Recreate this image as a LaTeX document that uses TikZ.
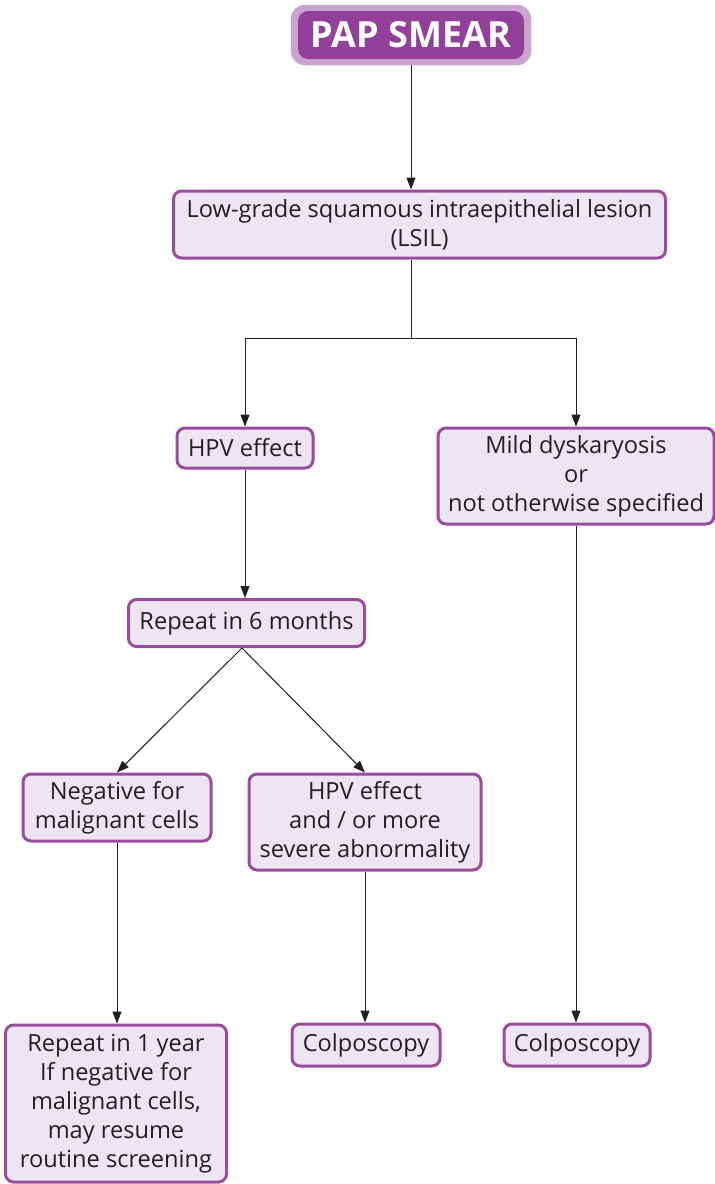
\documentclass[tikz,border=0pt]{standalone}
\usepackage{fontspec}
\setmainfont{Open Sans}
\usetikzlibrary{arrows.meta,calc}
\definecolor{boxfill}{HTML}{EDE5F2}
\definecolor{boxline}{HTML}{9A4C9E}
\definecolor{headfill}{HTML}{93409A}
\definecolor{headring}{HTML}{CBA3D0}
\definecolor{inktext}{HTML}{231F20}
\begin{document}
\begin{tikzpicture}[x=1pt,y=-1pt,
  stepbox/.style={draw=boxline, fill=boxfill, line width=3pt, rounded corners=8pt,
    align=center, inner sep=0pt, text=inktext,
    font=\fontsize{23.6}{29}\selectfont},
  link/.style={draw=inktext, line width=1pt, -{Triangle[length=12pt,width=9pt]}},
  plain/.style={draw=inktext, line width=1pt}]
\useasboundingbox (0,0) rectangle (715,1184);

% title box with its light outer ring
\node[draw=headring, fill=headring, rounded corners=14pt, minimum width=240pt, minimum height=60pt, inner sep=0pt] (papring) at (411,35) {};
\node[fill=headfill, rounded corners=10pt, minimum width=226pt, minimum height=48pt, inner sep=0pt,
  text=white, font=\fontsize{36}{40}\selectfont\bfseries] (pap) at (411,35) {PAP SMEAR};

% boxes
\node[stepbox, minimum width=492pt, minimum height=67pt] (lsil) at (419.5,224.5) {Low-grade squamous intraepithelial lesion\\(LSIL)};
\node[stepbox, minimum width=136pt, minimum height=40pt] (hpv) at (245,448) {HPV effect};
\node[stepbox, minimum width=276pt, minimum height=96pt] (mild) at (576,476) {Mild dyskaryosis\\or\\not otherwise specified};
\node[stepbox, minimum width=236pt, minimum height=47pt] (rep6) at (246.5,623) {Repeat in 6 months};
\node[stepbox, minimum width=188pt, minimum height=67pt] (neg) at (117,807.5) {Negative for\\malignant cells};
\node[stepbox, minimum width=232pt, minimum height=96pt] (hpvmore) at (365,822) {HPV effect\\and / or more\\severe abnormality};
\node[stepbox, minimum width=221pt, minimum height=157pt] (rep1) at (116,1103.5) {Repeat in 1 year\\If negative for\\malignant cells,\\may resume\\routine screening};
\node[stepbox, minimum width=148pt, minimum height=42pt] (colpa) at (366,1045) {Colposcopy};
\node[stepbox, minimum width=146pt, minimum height=42pt] (colpb) at (577,1045) {Colposcopy};

% connectors
\draw[link] (pap.south |- papring.south) -- (pap.south |- lsil.north);
\coordinate (split) at (pap.south |- 0,338);
\draw[plain] (pap.south |- lsil.south) -- (split);
\draw[link] (split) -| (hpv.north);
\draw[link] (split) -| (mild.north);
\draw[link] (hpv.south) -- (hpv.south |- rep6.north);
\coordinate (fork) at ($(rep6.south)+(-4.5,0)$);
\draw[link] (fork) -- (neg.north);
\draw[link] (fork) -- (hpvmore.north);
\draw[link] (neg.south) -- (neg.south |- rep1.north);
\draw[link] (hpvmore.south) -- (hpvmore.south |- colpa.north);
\draw[link] (mild.south) -- (mild.south |- colpb.north);
\end{tikzpicture}
\end{document}
